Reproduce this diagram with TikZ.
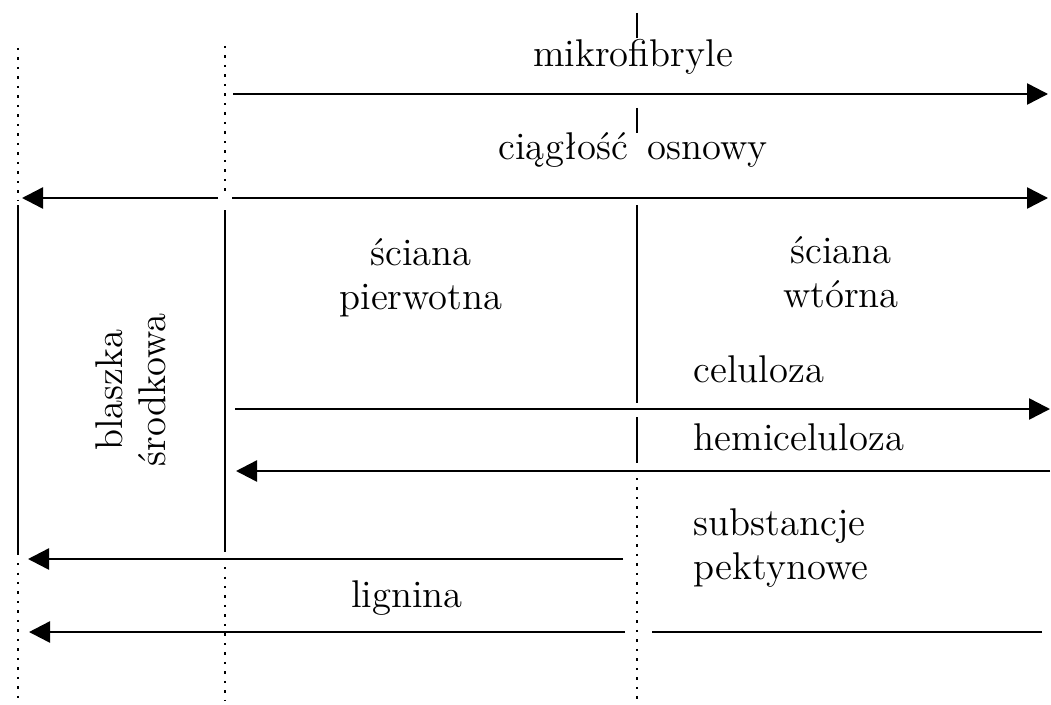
\documentclass[tikz,border=0pt]{standalone}
\usepackage{fontspec}
\usetikzlibrary{arrows.meta}

\begin{document}
\begin{tikzpicture}[x=0.1mm,y=-0.1mm,
    wall/.style={line width=0.7pt},
    open/.style={line width=0.7pt,dotted},
    layer/.style={-{Triangle[length=2.1mm,width=2.1mm]},line width=0.7pt},
    lbl/.style={font=\fontsize{11}{12.3}\selectfont,inner sep=0pt,align=center}
]
\useasboundingbox (0,0) rectangle (1051,704);

% boundaries: middle lamella | primary wall | secondary wall
\draw[open] (18,48) -- (18,200);
\draw[wall] (18,205) -- (18,555);
\draw[open] (18,563) -- (18,700);
\draw[open] (225,46) -- (225,195);
\draw[wall] (225,210) -- (225,552);
\draw[open] (225,567) -- (225,700);
\draw[wall] (637,13) -- (637,38);
\draw[wall] (637,108) -- (637,133);
\draw[wall] (637,205) -- (637,403);
\draw[wall] (637,417) -- (637,463);
\draw[open] (637,478) -- (637,700);

% layers
\draw[layer] (233,94) -- (1048,94);
\draw[layer] (218,198) -- (22,198);
\draw[layer] (232,198) -- (1048,198);
\draw[layer] (235,409) -- (1050,409);
\draw[layer] (1050,471) -- (236,471);
\draw[layer] (623,559) -- (28,559);
\draw[wall] (1042,632) -- (652,632);
\draw[layer] (625,632) -- (29,632);

\node[lbl,anchor=base] (mikro) at (633,67) {mikrofibryle};
\node[lbl,anchor=base] (osnowa) at (633,160) {ciągłość\hspace{2pt} osnowy};
\node[lbl,anchor=base] (pierw) at (421,309) {ściana\\pierwotna};
\node[lbl,anchor=base] (wtor) at (841,307) {ściana\\wtórna};
\node[lbl,anchor=base west] (cel) at (693,382) {celuloza};
\node[lbl,anchor=base west] (hemi) at (693,450) {hemiceluloza};
\node[lbl,anchor=base west,align=left] (pekt) at (693,579) {substancje\\pektynowe};
\node[lbl,anchor=base] (lig) at (407,607) {lignina};
\node[lbl,rotate=90] (blaszka) at (131,390) {blaszka\\środkowa};
\end{tikzpicture}
\end{document}
